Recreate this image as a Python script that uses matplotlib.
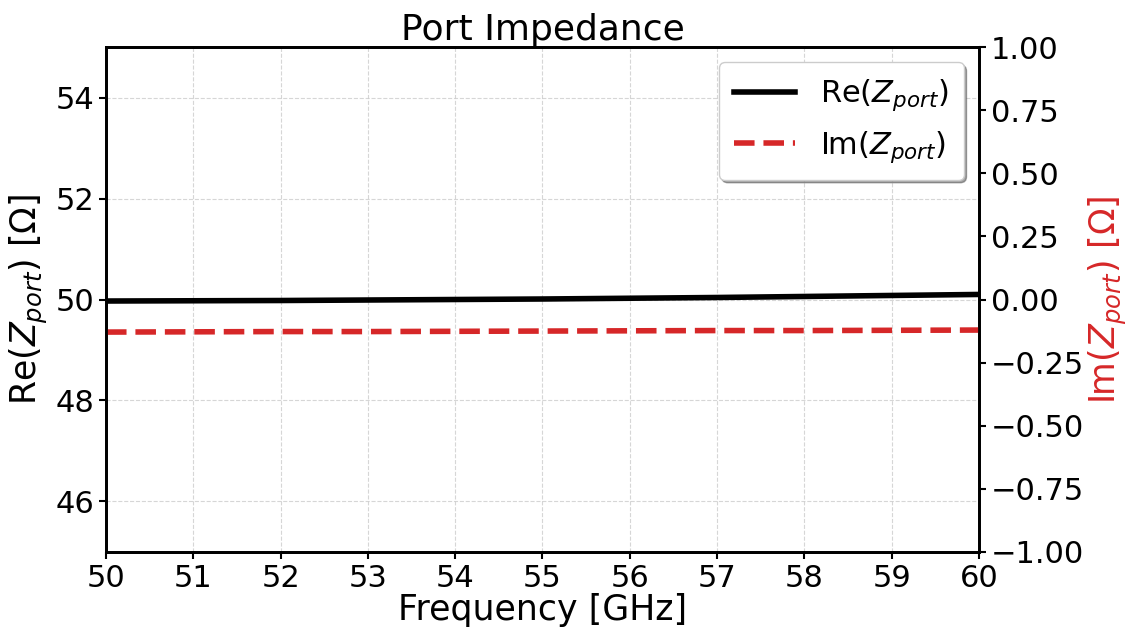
import numpy as np
import matplotlib
matplotlib.use("Agg")
import matplotlib.pyplot as plt

freq_ghz = [50, 51, 52, 53, 54, 55, 56, 57, 58, 59, 60]
re_z = [49.97, 49.975, 49.98, 49.99, 50.00, 50.01, 50.025, 50.04, 50.06, 50.08, 50.10]
im_z = [-0.129, -0.128, -0.127, -0.127, -0.126, -0.125, -0.124, -0.123, -0.123, -0.122, -0.121]

plt.rcParams['font.size'] = 22

fig = plt.figure(figsize=(11.31, 6.33), dpi=100)
ax = fig.add_axes([0.0937, 0.128, 0.7719, 0.7977])
ax2 = ax.twinx()

l1, = ax.plot(freq_ghz, re_z, color='black', lw=4, label=r'Re($Z_{port}$)')
l2, = ax2.plot(freq_ghz, im_z, color='#d62728', lw=4, ls='--', label=r'Im($Z_{port}$)')

ax.set_xlim(50, 60)
ax.set_ylim(45, 55)
ax2.set_ylim(-1, 1)
ax.set_xticks(range(50, 61))
ax.set_yticks([46, 48, 50, 52, 54])
ax2.set_yticks(np.arange(-1, 1.01, 0.25))

ax.grid(True, ls='--', color='#cccccc', lw=0.8, alpha=0.8)
ax.set_axisbelow(True)

ax.set_xlabel('Frequency [GHz]', fontsize=25, labelpad=0)
ax.set_ylabel(r'Re($Z_{port}$) [$\Omega$]', fontsize=25, labelpad=4)
ax2.set_ylabel(r'Im($Z_{port}$) [$\Omega$]', fontsize=25, color='#d62728', labelpad=2)
ax.set_title('Port Impedance', fontsize=26, pad=2)

for a in (ax, ax2):
    for s in a.spines.values():
        s.set_linewidth(2)
    a.tick_params(width=1.5, length=5, labelsize=22)

leg = ax.legend([l1, l2], [l1.get_label(), l2.get_label()], loc='upper right',
                fontsize=22, fancybox=True, shadow=True, framealpha=1,
                borderpad=0.5, handlelength=2.0, handletextpad=0.8)

fig.savefig('out.png', dpi=100)
